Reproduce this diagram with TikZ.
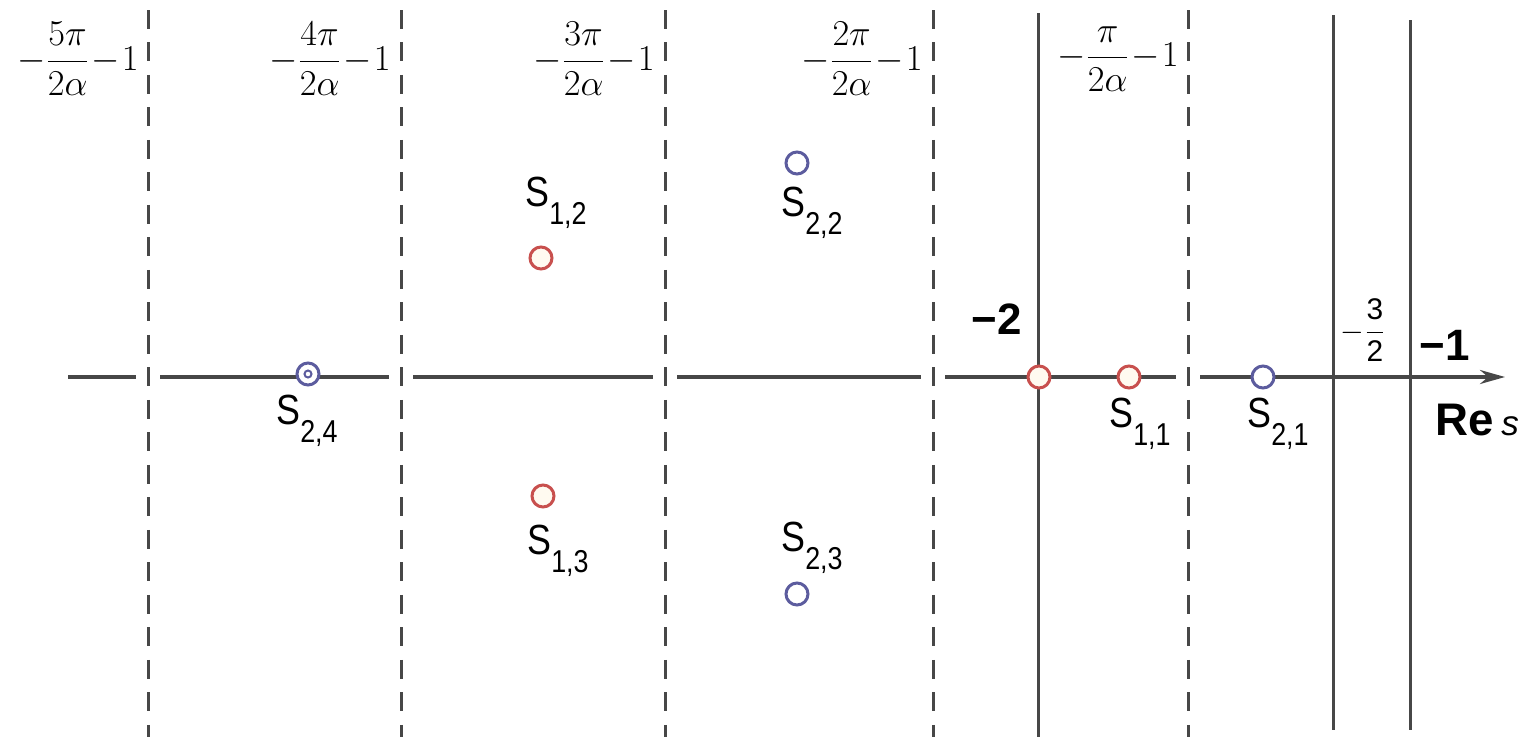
\documentclass[tikz,border=0pt]{standalone}
\usepackage[no-math]{fontspec}
\usepackage{amsmath}
\usepackage{xcolor}
\usetikzlibrary{arrows.meta}
\newfontfamily\lblfont[FakeStretch=0.85]{Liberation Sans}
\newfontfamily\numfont{Liberation Sans}
\definecolor{linegray}{HTML}{474747}
\definecolor{redpole}{HTML}{C8504E}
\definecolor{bluepole}{HTML}{5C5C9E}
\definecolor{creamfill}{HTML}{FFFAF0}
\newcommand{\polelbl}[1]{{\fontsize{24}{28}\selectfont S}\raisebox{-10pt}{\fontsize{18}{20}\selectfont #1}}
\newcommand{\striplbl}[1]{$\medmuskip=1mu -\dfrac{#1}{2\alpha}-1$}
\tikzset{
  cut/.style={linegray,line width=0.06cm,dash pattern=on 0.38cm off 0.27cm},
  wall/.style={linegray,line width=0.06cm},
  axis/.style={linegray,line width=0.07cm,-{Stealth[length=0.5cm,width=0.28cm]}},
  rpole/.style={circle,draw=redpole,fill=creamfill,line width=0.06cm,minimum size=0.44cm,inner sep=0pt},
  bpole/.style={rpole,draw=bluepole,fill=white},
  plbl/.style={font=\lblfont,inner sep=0pt},
  toplbl/.style={font=\fontsize{20.74}{25}\selectfont,anchor=east,inner sep=0pt}
}
\begin{document}
\begin{tikzpicture}[x=0.02cm,y=-0.02cm]
\useasboundingbox (0,0) rectangle (1524,737);
% real axis with gaps at the dashed lines
\draw[axis] (68,377) -- (1505,377);
\foreach \x in {148,401,665,933,1188}
  \fill[white] (\x-12,370) rectangle (\x+12,384);
\foreach \x in {148,401,665,933,1188}
  \draw[cut] (\x,10) -- (\x,737);
\draw[wall] (1038,13) -- (1038,737);
\draw[wall] (1333,15) -- (1333,730);
\draw[wall] (1410,20) -- (1410,730);
% strip labels
\node[toplbl] (c5) at (139,59) {\striplbl{5\pi}};
\node[toplbl] (c4) at (391,59) {\striplbl{4\pi}};
\node[toplbl] (c3) at (655,59) {\striplbl{3\pi}};
\node[toplbl] (c2) at (923,59) {\striplbl{2\pi}};
\node[toplbl] (c1) at (1179,59) {\striplbl{\pi}};
\node[font=\numfont\bfseries\fontsize{25}{28}\selectfont,inner sep=0pt] (m2) at (997,319) {−2};
\node[font=\numfont\fontsize{17}{20}\selectfont,inner sep=0pt] (m32) at (1363,330) {$-\dfrac{\text{3}}{\text{2}}$};
\node[font=\numfont\bfseries\fontsize{25}{28}\selectfont,inner sep=0pt] (m1) at (1445,345) {−1};
\node[font=\numfont\bfseries\fontsize{26}{30}\selectfont,anchor=west,inner sep=0pt] (res) at (1435,420) {Re\,{\mdseries\itshape\fontsize{20}{24}\selectfont s}};
% poles
\node[rpole] (pm2) at (1039,377) {};
\node[rpole] (p11) at (1129,377) {};
\node[rpole] (p12) at (541,258) {};
\node[rpole] (p13) at (543,496) {};
\node[bpole] (p21) at (1263,377) {};
\node[bpole] (p22) at (797,163) {};
\node[bpole] (p23) at (797,594) {};
\node[bpole] (p24) at (308,374) {};
\node[circle,draw=bluepole,line width=0.04cm,minimum size=0.14cm,inner sep=0pt] (p24in) at (p24) {};
\node[plbl] (s11) at (1140,424) {\polelbl{1,1}};
\node[plbl] (s12) at (556,203) {\polelbl{1,2}};
\node[plbl] (s13) at (558,551) {\polelbl{1,3}};
\node[plbl] (s21) at (1278,424) {\polelbl{2,1}};
\node[plbl] (s22) at (812,213) {\polelbl{2,2}};
\node[plbl] (s23) at (812,548) {\polelbl{2,3}};
\node[plbl] (s24) at (307,421) {\polelbl{2,4}};
\end{tikzpicture}
\end{document}
